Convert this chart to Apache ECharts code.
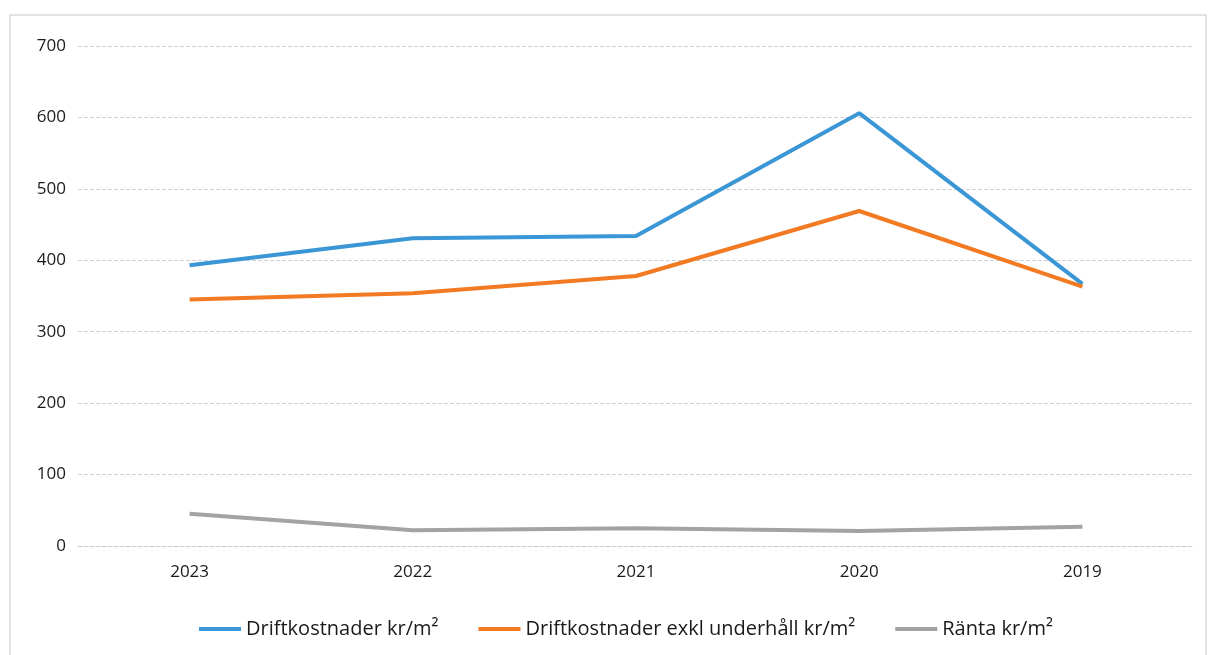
<!DOCTYPE html>
<html>
<head>
<meta charset="utf-8">
<script src="https://cdn.jsdelivr.net/npm/echarts@6/dist/echarts.min.js"></script>
<style>
  html, body { margin: 0; padding: 0; background: #fff; }
  #chart { width: 1213px; height: 655px; }
</style>
</head>
<body>
<div id="chart"></div>
<script>
// Years, shown newest first
const years = ['2023', '2022', '2021', '2020', '2019'];

// Operating costs per square metre
const driftkostnader = [393, 431, 434, 606, 367];
const driftkostnaderExklUnderhall = [345, 354, 378, 469, 363];
const ranta = [45, 22, 25, 21, 27];

const yTicks = [0, 100, 200, 300, 400, 500, 600, 700];

const chart = echarts.init(document.getElementById('chart'), null, { renderer: 'canvas' });

const lineSeries = (name, data, color) => ({
  name,
  type: 'line',
  data,
  symbol: 'none',
  lineStyle: { width: 4, color },
  itemStyle: { color },
  z: 3
});

chart.setOption({
  animation: false,
  backgroundColor: '#ffffff',
  graphic: [{
    type: 'rect',
    shape: { x: 10, y: 15, width: 1196, height: 660 },
    style: { fill: 'none', stroke: '#c4c6cc', lineWidth: 1 },
    silent: true,
    z: -1
  }],
  grid: { left: 78, right: 19, top: 46, bottom: 109, containLabel: false },
  legend: {
    top: 614,
    left: 194,
    itemWidth: 42,
    itemHeight: 4,
    itemGap: 40,
    icon: 'rect',
    textStyle: { fontFamily: 'Open Sans, sans-serif', fontSize: 20, color: '#1a1a1a' },
    data: ['Driftkostnader kr/m²', 'Driftkostnader exkl underhåll kr/m²', 'Ränta kr/m²']
  },
  xAxis: {
    type: 'category',
    data: years,
    boundaryGap: true,
    axisLine: { show: true, lineStyle: { color: '#c8cad2', width: 1, type: 'dashed' } },
    axisTick: { show: false },
    axisLabel: { fontFamily: 'Open Sans, sans-serif', fontSize: 17, color: '#1a1a1a', margin: 18 }
  },
  yAxis: {
    type: 'value',
    min: yTicks[0],
    max: yTicks[yTicks.length - 1],
    interval: 100,
    axisLine: { show: false },
    axisTick: { show: false },
    axisLabel: { fontFamily: 'Open Sans, sans-serif', fontSize: 17, color: '#1a1a1a', margin: 12 },
    splitLine: { lineStyle: { color: '#cfd1d8', width: 1, type: 'dashed' } }
  },
  series: [
    lineSeries('Driftkostnader kr/m²', driftkostnader, '#3b96d6'),
    lineSeries('Driftkostnader exkl underhåll kr/m²', driftkostnaderExklUnderhall, '#f27a22'),
    lineSeries('Ränta kr/m²', ranta, '#a3a3a3')
  ]
});
</script>
</body>
</html>
